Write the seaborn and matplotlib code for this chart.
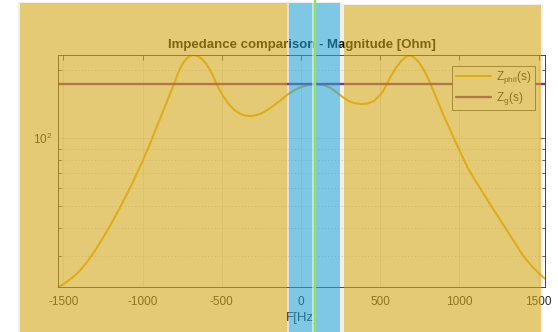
import numpy as np
import pandas as pd
import matplotlib
matplotlib.use("Agg")
import matplotlib.pyplot as plt
import seaborn as sns
from matplotlib.ticker import LogLocator, NullFormatter
from matplotlib.patches import Rectangle
from matplotlib.lines import Line2D

# Frequency axis [Hz] and magnitude of the philtered impedance [Ohm]
freq_hz = [-1531.5, -1500, -1450, -1400, -1350, -1300, -1250, -1200, -1150, -1100,
           -1050, -1000, -950, -900, -850, -800, -780, -760, -740, -720,
           -700, -680, -660, -640, -620, -600, -580, -560, -532, -500,
           -460, -420, -380, -350, -322, -290, -250, -210, -170, -130,
           -80, -40, 4, 50, 107, 150, 190, 220, 246, 280,
           310, 340, 383, 420, 460, 500, 520, 540.8, 570, 600,
           630, 660, 687.8, 700, 720, 745, 770, 795, 818.4, 860,
           900, 940, 965, 1000, 1050, 1100, 1150, 1200, 1250, 1300,
           1350, 1400, 1450, 1500, 1537.8]
zphil_mag = [22.05, 22.61, 23.96, 25.73, 28.35, 31.80, 36.23, 41.59, 48.25, 56.41,
             66.51, 79.23, 95.81, 117.2, 142.9, 175.0, 191.1, 205.5, 217.4, 226.3,
             231.8, 233.7, 232.4, 228.6, 222.5, 214.1, 203.9, 192.0, 173.4, 157.1,
             142.7, 133.3, 127.9, 126.0, 125.5, 126.2, 128.8, 133.7, 140.0, 147.2,
             157.0, 163.7, 169.0, 172.2, 173.4, 171.4, 166.7, 160.7, 155.5, 149.3,
             145.2, 142.9, 141.8, 142.5, 146.3, 155.5, 162.9, 173.3, 189.7, 205.3,
             218.9, 229.1, 232.3, 231.1, 226.2, 216.3, 203.5, 188.6, 173.4, 147.4,
             126.2, 109.6, 100.0, 88.45, 74.47, 64.94, 57.15, 50.23, 44.32, 39.08,
             34.46, 30.34, 27.54, 25.29, 23.96]
# Grid impedance magnitude (flat over frequency)
zg_mag = 173.4

xtick_values = [-1500, -1000, -500, 0, 500, 1000, 1500]
title_text = "Impedance comparison - Magnitude [Ohm]"
xlabel_text = "F[Hz]"
series_labels = [r"Z$_{phil}$(s)", r"Z$_{g}$(s)"]

sns.set_theme(style="white")
plt.rcParams["font.family"] = ["Liberation Sans", "DejaVu Sans"]
plt.rcParams["mathtext.fontset"] = "custom"
plt.rcParams["mathtext.rm"] = "Liberation Sans"
plt.rcParams["mathtext.it"] = "Liberation Sans:italic"
plt.rcParams["mathtext.default"] = "regular"

W, H = 558, 332
fig = plt.figure(figsize=(W / 100, H / 100), dpi=100)
fig.patch.set_facecolor("white")

ax_l, ax_r, ax_t, ax_b = 58.3, 544.7, 55.0, 286.7
ax = fig.add_axes([ax_l / W, 1 - ax_b / H, (ax_r - ax_l) / W, (ax_b - ax_t) / H])
ax.set_facecolor("white")

df = pd.DataFrame({"F": freq_hz, "Zphil": zphil_mag})
df_g = pd.DataFrame({"F": [freq_hz[0], freq_hz[-1]], "Zg": [zg_mag, zg_mag]})

sns.lineplot(data=df, x="F", y="Zphil", ax=ax, color="#EDB120", lw=1.5,
             sort=False, label=series_labels[0])
sns.lineplot(data=df_g, x="F", y="Zg", ax=ax, color="#7E2F8E", lw=1.7,
             sort=False, label=series_labels[1])

ax.set_yscale("log")
ax.set_xlim(freq_hz[0], freq_hz[-1])
ax.set_ylim(22.05, 233.7)

ax.set_xticks(xtick_values)
ax.set_xticklabels([str(v) for v in xtick_values])
ax.yaxis.set_major_locator(LogLocator(base=10))
ax.yaxis.set_minor_locator(LogLocator(base=10, subs=np.arange(2, 10)))
ax.yaxis.set_minor_formatter(NullFormatter())

ink = "#262626"
ax.tick_params(axis="both", which="major", direction="in", length=3.5, width=0.5,
               colors=ink, labelsize=8.5, top=True, right=True)
ax.tick_params(axis="x", which="major", pad=7)
ax.tick_params(axis="y", which="major", pad=4)
ax.tick_params(axis="y", which="minor", direction="in", length=2.0, width=0.5,
               colors=ink, left=True, right=True)
for sp in ax.spines.values():
    sp.set_color(ink)
    sp.set_linewidth(0.6)

ax.grid(True, which="major", color=ink, alpha=0.15, lw=0.5)
ax.yaxis.grid(True, which="minor", color=ink, alpha=0.3, lw=0.6, ls=(0, (1, 3)))

ax.set_title(title_text, fontsize=9.5, fontweight="bold", color="black", pad=5)
ax.set_xlabel(xlabel_text, fontsize=9.5, color=ink, labelpad=2.5)
ax.set_ylabel("")

leg = ax.legend(loc="upper right", bbox_to_anchor=(0.980, 0.954), borderaxespad=0,
                fontsize=8.5, frameon=True, fancybox=False, edgecolor=ink,
                facecolor="white", framealpha=1, handlelength=3.0,
                labelspacing=0.3, borderpad=0.3, handletextpad=0.4)
leg.get_frame().set_linewidth(0.5)
for t in leg.get_texts():
    t.set_color(ink)


def fig_rect(x0, y0, x1, y1, **kw):
    """Rectangle given in pixel coordinates measured from the top-left corner."""
    r = Rectangle((x0 / W, 1 - y1 / H), (x1 - x0) / W, (y1 - y0) / H,
                  transform=fig.transFigure, **kw)
    fig.add_artist(r)
    return r


# Highlight bands laid over the figure
bands = [
    (20, 3, 287, 334, "#D5A819"),
    (289, 3, 340, 334, "#28A3D5"),
    (344, 5, 541, 334, "#D5A819"),
]
shade = dict(facecolor="#808080", alpha=0.12, edgecolor="none", zorder=9)
for x0, y0, x1, y1, c in bands:
    fig_rect(x0 - 2, y0, x0, y1, **shade)
    fig_rect(x1, y0, x1 + 2, y1, **shade)
    fig_rect(x0 - 2, y0 - 1.5, x1 + 2, y0, **shade)
for x0, y0, x1, y1, c in bands:
    fig_rect(x0, y0, x1, y1, facecolor=c, alpha=0.6, edgecolor="none", zorder=10)

# Marker line
xm = 314.7 / W
fig.add_artist(Line2D([xm - 1.5 / W, xm - 1.5 / W], [0, 1], transform=fig.transFigure,
                      color="white", lw=1.2, alpha=0.6, zorder=11))
fig.add_artist(Line2D([xm, xm], [0, 1], transform=fig.transFigure,
                      color="#8EE55C", lw=1.7, zorder=12))

fig.savefig("out.png", dpi=100)
